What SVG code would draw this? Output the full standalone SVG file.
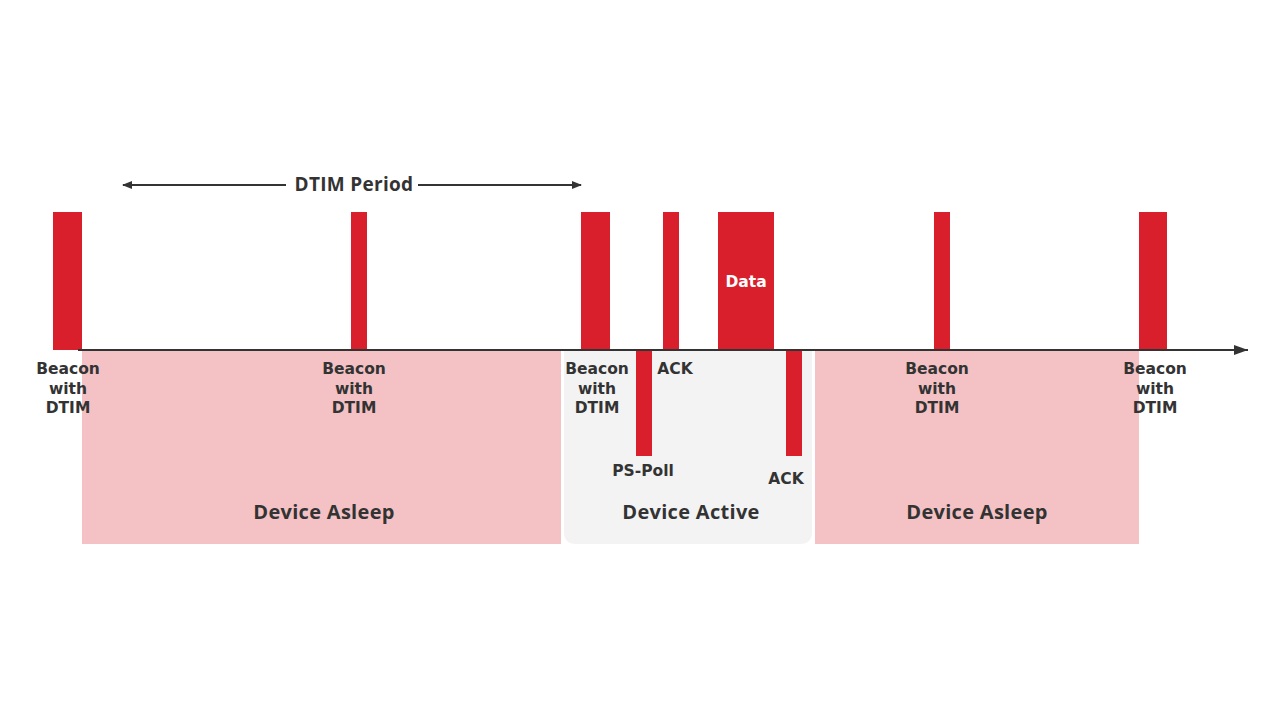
<svg xmlns="http://www.w3.org/2000/svg" width="1280" height="720" viewBox="0 0 1280 720">
<defs>
<style>
.bar{fill:#da1f2c}
.lbl{font-family:"DejaVu Sans","Open Sans",sans-serif;font-weight:700;font-size:15.5px;fill:#333;text-anchor:middle}
.zone{font-family:"Open Sans","Liberation Sans",sans-serif;font-weight:700;font-size:20px;letter-spacing:0.3px;fill:#333;text-anchor:middle}
.ln{stroke:#333;stroke-width:2;fill:none}
</style>
<marker id="ah" viewBox="0 0 10 10" refX="9" refY="5" markerWidth="10" markerHeight="10" markerUnits="userSpaceOnUse" orient="auto-start-reverse">
<path d="M0,1 L10,5 L0,9 z" fill="#333"/>
</marker>
<marker id="ax" viewBox="0 0 14 10" refX="14" refY="5" markerWidth="14" markerHeight="10" markerUnits="userSpaceOnUse" orient="auto">
<path d="M0,0 L14,5 L0,10 z" fill="#333"/>
</marker>
</defs>
<rect width="1280" height="720" fill="#fff"/>
<g id="zone-asleep-1"><rect x="82" y="350" width="479" height="194" fill="#f4c2c5"/><text class="zone" x="324" y="519">Device Asleep</text></g>
<g id="zone-active"><path d="M564,350 H812 V532 Q812,544 800,544 H576 Q564,544 564,532 Z" fill="#f3f3f3"/><text class="zone" x="691" y="519">Device Active</text></g>
<g id="zone-asleep-2"><rect x="815" y="350" width="324" height="194" fill="#f4c2c5"/><text class="zone" x="977" y="519">Device Asleep</text></g>
<g id="beacon-1"><rect class="bar" x="53" y="212" width="29" height="138"/><text class="lbl"><tspan x="68" y="374">Beacon</tspan><tspan x="68" y="393.5">with</tspan><tspan x="68" y="413">DTIM</tspan></text></g>
<g id="beacon-2"><rect class="bar" x="351" y="212" width="16" height="138"/><text class="lbl"><tspan x="354" y="374">Beacon</tspan><tspan x="354" y="393.5">with</tspan><tspan x="354" y="413">DTIM</tspan></text></g>
<g id="beacon-3"><rect class="bar" x="581" y="212" width="29" height="138"/><text class="lbl"><tspan x="597" y="374">Beacon</tspan><tspan x="597" y="393.5">with</tspan><tspan x="597" y="413">DTIM</tspan></text></g>
<g id="ps-poll"><rect class="bar" x="636" y="350" width="16" height="106"/><text class="lbl" x="643" y="476">PS-Poll</text></g>
<g id="ack-1"><rect class="bar" x="663" y="212" width="16" height="138"/><text class="lbl" x="675" y="374">ACK</text></g>
<g id="data"><rect class="bar" x="718" y="212" width="56" height="138"/><text class="lbl" x="746" y="287" style="fill:#fff">Data</text></g>
<g id="ack-2"><rect class="bar" x="786" y="350" width="16" height="106"/><text class="lbl" x="786" y="484">ACK</text></g>
<g id="beacon-4"><rect class="bar" x="934" y="212" width="16" height="138"/><text class="lbl"><tspan x="937" y="374">Beacon</tspan><tspan x="937" y="393.5">with</tspan><tspan x="937" y="413">DTIM</tspan></text></g>
<g id="beacon-5"><rect class="bar" x="1139" y="212" width="28" height="138"/><text class="lbl"><tspan x="1155" y="374">Beacon</tspan><tspan x="1155" y="393.5">with</tspan><tspan x="1155" y="413">DTIM</tspan></text></g>
<g id="connectors">
<line class="ln" x1="78" y1="350" x2="1248" y2="350" marker-end="url(#ax)"/>
<line class="ln" x1="123" y1="185" x2="286" y2="185" marker-start="url(#ah)"/>
<line class="ln" x1="418" y1="185" x2="581" y2="185" marker-end="url(#ah)"/>
</g>
<g id="dtim-period"><text class="zone" x="354" y="191" style="font-size:19px">DTIM Period</text></g>
</svg>
